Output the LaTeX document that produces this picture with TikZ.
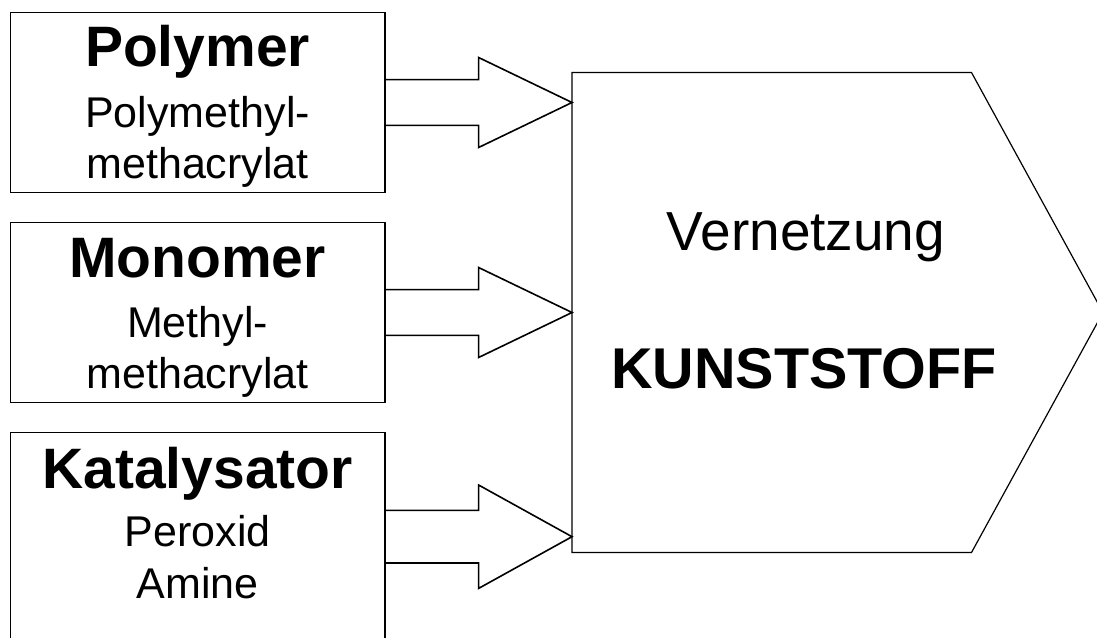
\documentclass[tikz,border=0pt]{standalone}
\usepackage{fontspec}
\setmainfont{Liberation Sans}
\usetikzlibrary{calc}

\tikzset{
  inbox/.style={draw, line width=1.6pt, minimum width=374.2pt, inner sep=0pt, outer sep=0pt},
  boxtitle/.style={anchor=base, inner sep=0pt, font=\fontsize{57}{60}\selectfont\bfseries},
  boxtext/.style={anchor=base, inner sep=0pt, font=\fontsize{43}{46}\selectfont},
  arrowline/.style={draw, line width=1.6pt, line join=miter},
}

% block arrow: start, tip, half shaft, half head
\newcommand\blockarrow[4]{%
  \draw[arrowline] ($(#1 |- #2)+(0,-#3)$) -- ($(#2)+(-93.4,-#3)$) -- ($(#2)+(-93.4,-#4)$) -- (#2)
    -- ($(#2)+(-93.4,#4)$) -- ($(#2)+(-93.4,#3)$) -- ($(#1 |- #2)+(0,#3)$);
}

\begin{document}
\begin{tikzpicture}[x=1pt,y=-1pt]
\useasboundingbox (0,0) rectangle (1097,637);
\clip (0,0) rectangle (1097,637);

% inputs
\node[inbox, minimum height=180pt] (polymer) at (197.6,102.5) {};
\node[boxtitle] (polymer-t) at (197.6,66) {Polymer};
\node[boxtext] (polymer-a) at (197.6,127) {Polymethyl-};
\node[boxtext] (polymer-b) at (197.6,178) {methacrylat};

\node[inbox, minimum height=180pt] (monomer) at (197.6,312.5) {};
\node[boxtitle] (monomer-t) at (197.6,277) {Monomer};
\node[boxtext] (monomer-a) at (197.6,337) {Methyl-};
\node[boxtext] (monomer-b) at (197.6,388) {methacrylat};

\node[inbox, minimum height=220pt] (katalysator) at (197.6,542.5) {};
\node[boxtitle] (katalysator-t) at (197.6,488) {Katalysator};
\node[boxtext] (katalysator-a) at (197.6,546) {Peroxid};
\node[boxtext] (katalysator-b) at (197.6,598) {Amine};

% reaction
\node[minimum width=399.5pt, minimum height=480pt, inner sep=0pt, outer sep=0pt] (netz) at (771.75,312.5) {};
\draw[line width=1.2pt, line join=miter] (netz.north west) -- (netz.north east) -- ($(netz.east)+(131.5,0)$)
  -- (netz.south east) -- (netz.south west) -- cycle;
\node[anchor=base, inner sep=0pt, font=\fontsize{55}{58}\selectfont] (vernetzung) at (806,250) {Vernetzung};
\node[anchor=base, inner sep=0pt, font=\fontsize{57.5}{60}\selectfont\bfseries] (kunststoff) at (804,388) {KUNSTSTOFF};

\coordinate (in1) at (netz.west |- polymer.east);
\coordinate (in2) at (netz.west |- monomer.east);
\coordinate (in3) at ($(netz.west)+(0,224.2)$);

\blockarrow{polymer.east}{in1}{22.9}{45}
\blockarrow{monomer.east}{in2}{22.9}{45}
\blockarrow{katalysator.east}{in3}{26.3}{51.7}
\end{tikzpicture}
\end{document}
